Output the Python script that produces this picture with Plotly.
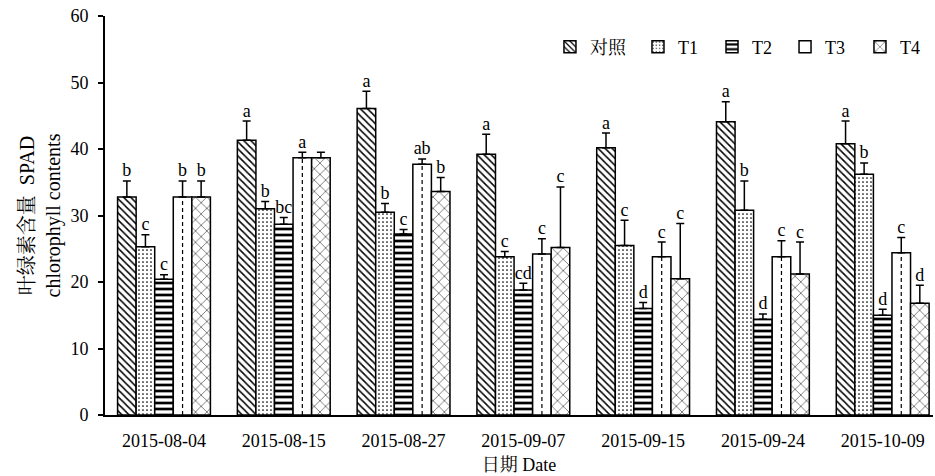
import plotly.graph_objects as go

# Sampling dates (categories)
dates = ["2015-08-04", "2015-08-15", "2015-08-27", "2015-09-07",
         "2015-09-15", "2015-09-24", "2015-10-09"]

# SPAD means, upper error (SD) and significance letters per treatment
ck = [32.8, 41.3, 46.1, 39.2, 40.2, 44.1, 40.8]
ck_err = [2.4, 2.9, 2.6, 3.0, 2.2, 3.0, 3.4]
ck_sig = ["b", "a", "a", "a", "a", "a", "a"]

t1 = [25.3, 31.0, 30.5, 23.8, 25.5, 30.8, 36.2]
t1_err = [1.8, 1.1, 1.3, 0.8, 3.8, 4.4, 1.7]
t1_sig = ["c", "b", "b", "c", "c", "b", "b"]

t2 = [20.4, 28.7, 27.2, 18.8, 16.0, 14.4, 15.0]
t2_err = [0.7, 1.0, 0.7, 1.0, 0.9, 0.8, 0.9]
t2_sig = ["c", "bc", "c", "cd", "d", "d", "d"]

t3 = [32.8, 38.7, 37.7, 24.2, 23.8, 23.8, 24.4]
t3_err = [2.4, 0.8, 0.8, 2.3, 2.2, 2.4, 2.3]
t3_sig = ["b", "a", "ab", "c", "c", "c", "c"]

t4 = [32.8, 38.7, 33.6, 25.2, 20.5, 21.2, 16.8]
t4_err = [2.4, 0.8, 2.1, 9.1, 8.3, 4.8, 2.7]
t4_sig = ["b", "", "b", "c", "c", "c", "d"]

names = ["对照", "T1", "T2", "T3", "T4"]
values = [ck, t1, t2, t3, t4]
errors = [ck_err, t1_err, t2_err, t3_err, t4_err]
letters = [ck_sig, t1_sig, t2_sig, t3_sig, t4_sig]

patterns = [
    dict(shape="\\", size=5, solidity=0.3),
    dict(shape=".", size=4, solidity=0.15),
    dict(shape="-", size=6, solidity=0.45),
    dict(shape="", size=8, solidity=0.2),
    dict(shape="x", size=8, solidity=0.12),
]

# each legend entry sits in its own legend box (paper x of the box)
legend_x = [0.5374, 0.6437, 0.7331, 0.8213, 0.9118]

FONT = "Liberation Serif, 'Noto Serif CJK SC', 'Noto Sans CJK SC', serif"
BW = 0.155  # bar width in category units

fig = go.Figure()
legend_ids = ["legend", "legend2", "legend3", "legend4", "legend5"]
for k, (name, vals, errs, sig, pat) in enumerate(zip(names, values, errors, letters, patterns)):
    xs = [i + (k - 2) * BW for i in range(len(dates))]
    fig.add_trace(go.Bar(
        x=xs, y=vals, width=BW, name=name, legend=legend_ids[k],
        marker=dict(color="white", line=dict(color="black", width=1.5),
                    pattern=dict(shape=pat["shape"], size=pat["size"], solidity=pat["solidity"],
                                 fgcolor="black", bgcolor="white", fillmode="replace")),
        error_y=dict(type="data", symmetric=False, array=errs, arrayminus=[0] * len(errs),
                     color="black", thickness=1.5, width=4),
    ))
    if name == "T3":
        # dashed centre line inside each T3 bar
        lx, ly = [], []
        for x, v in zip(xs, vals):
            lx += [x, x, None]
            ly += [0, v, None]
        fig.add_trace(go.Scatter(x=lx, y=ly, mode="lines", showlegend=False, hoverinfo="skip",
                                 line=dict(color="black", width=1.2, dash="4px,3px")))
    # significance letters above the error bars
    fig.add_trace(go.Scatter(
        x=xs, y=[v + e for v, e in zip(vals, errs)], mode="text", text=sig,
        textposition="top center", showlegend=False, hoverinfo="skip",
        textfont=dict(family=FONT, size=18, color="black"),
    ))

legend_layout = {}
for lid, lx in zip(legend_ids, legend_x):
    legend_layout[lid] = dict(orientation="h", x=lx, xanchor="left", y=0.922, yanchor="middle",
                              font=dict(family=FONT, size=18), bgcolor="rgba(0,0,0,0)",
                              itemwidth=30)

fig.update_layout(
    width=935, height=476,
    margin=dict(l=105, r=2, t=16, b=61),
    paper_bgcolor="white", plot_bgcolor="white",
    barmode="overlay",
    font=dict(family=FONT, size=18, color="black"),
    xaxis=dict(range=[-0.4925, 6.42], tickmode="array", tickvals=list(range(len(dates))),
               ticktext=dates, showline=True, linecolor="black", linewidth=2,
               ticks="", showgrid=False, zeroline=False, ticklabelstandoff=8,
               tickfont=dict(family=FONT, size=18),
               title=dict(text="日期 Date", standoff=9, font=dict(family=FONT, size=18))),
    yaxis=dict(range=[0, 60], tickvals=[0, 10, 20, 30, 40, 50, 60], showline=True,
               linecolor="black", linewidth=2, ticks="outside", ticklen=5, tickwidth=1.5,
               tickcolor="black", showgrid=False, zeroline=False, ticklabelstandoff=6,
               tickfont=dict(family=FONT, size=18),
               title=dict(text="叶绿素含量  SPAD<br>chlorophyll contents", standoff=4,
                          font=dict(family=FONT, size=20))),
    **legend_layout,
)

fig.write_html("out.html")
